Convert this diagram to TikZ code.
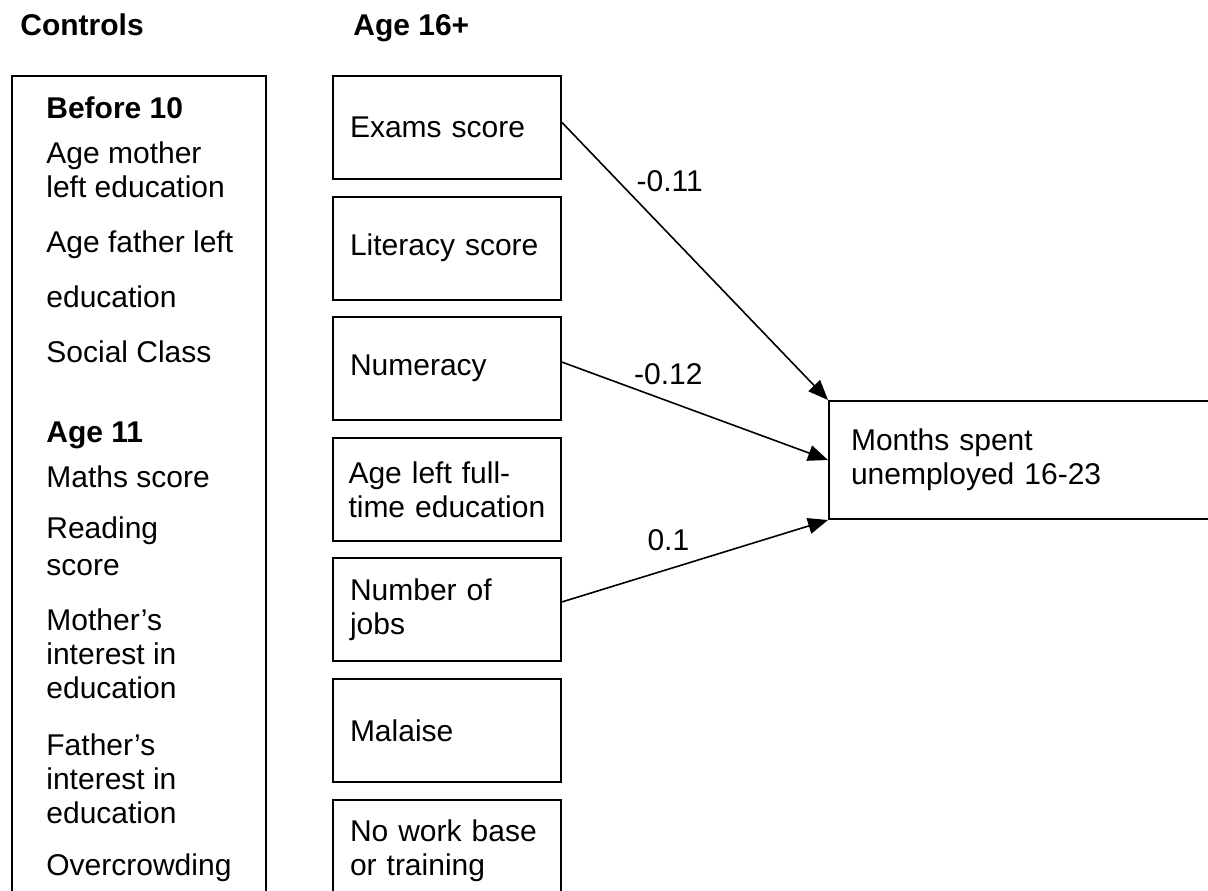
\documentclass[tikz,border=0pt]{standalone}
\usepackage{fontspec}
\setmainfont{Liberation Sans}
\usetikzlibrary{positioning,arrows.meta}

\begin{document}
\begin{tikzpicture}[x=0.5pt, y=-0.5pt, node distance=7.8pt, font=\fontsize{15pt}{17pt}\selectfont]

\tikzstyle{title}=[font=\fontsize{15pt}{17pt}\selectfont\bfseries, inner sep=0pt, anchor=base west]
\tikzstyle{var}=[draw, line width=1pt, minimum height=51.5pt, text width=97pt, inner xsep=8.5pt, align=left]
\tikzstyle{coef}=[inner sep=0pt]
\tikzstyle{effect}=[-{Triangle[length=10pt, width=8pt]}, line width=0.8pt]
%\tikzstyle{outcome}=[var, minimum height=59pt]

\useasboundingbox (0,0) rectangle (1208,890);
\clip (0,0) rectangle (1208,890);

\node[title] (controls) at (20,35) {Controls};
\node[title] (age16) at (353,35) {Age 16+};

\node[draw, line width=1pt, anchor=north west, minimum width=127pt, minimum height=420pt, inner sep=0pt] (ctrlbox) at (11,75) {};
\node[anchor=north west, align=left, inner sep=0pt] (ctrltext) at (46,96) {\textbf{Before 10}\\[5.5pt]
  Age mother\\
  left education\\[10.5pt]
  Age father left\\[10.5pt]
  education\\[10.5pt]
  Social Class\\[23pt]
  \textbf{Age 11}\\[5.5pt]
  Maths score\\[8.5pt]
  Reading\\[1.5pt]
  score\\[10.5pt]
  Mother’s\\
  interest in\\
  education\\[11.5pt]
  Father’s\\
  interest in\\
  education\\[9pt]
  Overcrowding};

\node[var, anchor=north west] (exams) at (332,75) {Exams score};
\node[var, below=of exams] (literacy) {Literacy score};
\node[var, below=of literacy] (numeracy) {Numeracy};
\node[var, below=of numeracy, text width=98.5pt, inner xsep=7.75pt] (ageleft) {Age left full-\\time education};
\node[var, below=of ageleft] (jobs) {Number of\\jobs};
\node[var, below=of jobs] (malaise) {Malaise};
\node[var, below=of malaise] (training) {No work base\\or training};

\node[var, anchor=north west, minimum height=59pt, text width=190pt, inner xsep=11pt] (months) at (828,400) {Months spent\\unemployed 16-23};

\draw[effect] ([yshift=2.5pt]exams.east) -- (months.north west) node[coef, pos=0.21, anchor=west, xshift=9pt] {-0.11};
\draw[effect] ([yshift=3.3pt]numeracy.east) -- (months.west) node[coef, pos=0.4, above=8pt] {-0.12};
\draw[effect] ([yshift=4pt]jobs.east) -- (months.south west) node[coef, pos=0.4, above=9pt] {0.1};

\end{tikzpicture}
\end{document}
